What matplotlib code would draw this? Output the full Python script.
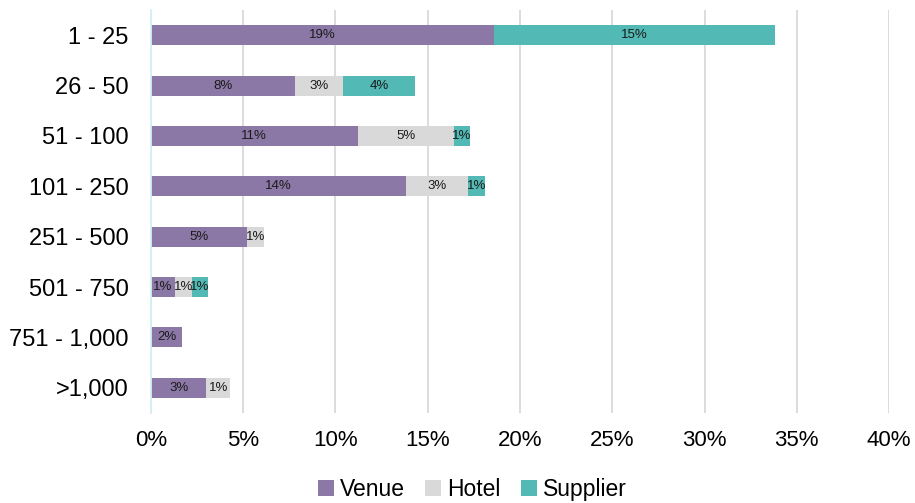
import matplotlib.pyplot as plt
import numpy as np

plt.rcParams['font.family'] = ['Liberation Sans', 'DejaVu Sans']

# share of respondents (%) by group size
groups = ["1 - 25", "26 - 50", "51 - 100", "101 - 250",
          "251 - 500", "501 - 750", "751 - 1,000", ">1,000"]
venue = [18.6, 7.8, 11.2, 13.8, 5.2, 1.3, 1.7, 3.0]
hotel = [0.0, 2.6, 5.2, 3.4, 0.9, 0.9, 0.0, 1.3]
supplier = [15.2, 3.9, 0.9, 0.9, 0.0, 0.9, 0.0, 0.0]

series = [("Venue", venue, "#8C78A6"),
          ("Hotel", hotel, "#D9D9D9"),
          ("Supplier", supplier, "#52B9B4")]

fig = plt.figure(figsize=(9.15, 5.03), dpi=100)
ax = fig.add_axes([0.165, 0.179, 0.8066, 0.801])

y = np.arange(len(groups))
left = np.zeros(len(groups))
for name, vals, color in series:
    vals = np.array(vals)
    bars = ax.barh(y, vals, 0.4, left=left, color=color, label=name, zorder=3)
    for b, v in zip(bars, vals):
        if v > 0:
            ax.text(b.get_x() + b.get_width() / 2, b.get_y() + b.get_height() / 2,
                    f"{v:.0f}%", ha="center", va="center", fontsize=9.5,
                    color="#1a1a1a", zorder=4)
    left += vals

ax.set_xlim(0, 40)
ax.set_ylim(len(groups) - 0.5, -0.5)
ax.set_yticks(y)
ax.set_yticklabels(groups, fontsize=17)
ax.set_xticks(np.arange(0, 41, 5))
ax.set_xticklabels([f"{v}%" for v in range(0, 41, 5)], fontsize=16)
ax.tick_params(axis="both", length=0, colors="#000000")
ax.tick_params(axis="y", pad=16)
ax.tick_params(axis="x", pad=12)

ax.grid(axis="x", color="#D9D9D9", linewidth=1.3, zorder=0)
for s in ["top", "right", "bottom"]:
    ax.spines[s].set_visible(False)
ax.spines["left"].set_color("#D3F1F1")
ax.spines["left"].set_linewidth(1.3)
ax.spines["left"].set_zorder(5)

fig.legend(loc="center", bbox_to_anchor=(0.516, 0.026), ncol=3, frameon=False,
           fontsize=16.5, handlelength=0.7, handleheight=0.7, handletextpad=0.25,
           columnspacing=0.9, borderpad=0.1)

fig.savefig("out.png", dpi=100)
